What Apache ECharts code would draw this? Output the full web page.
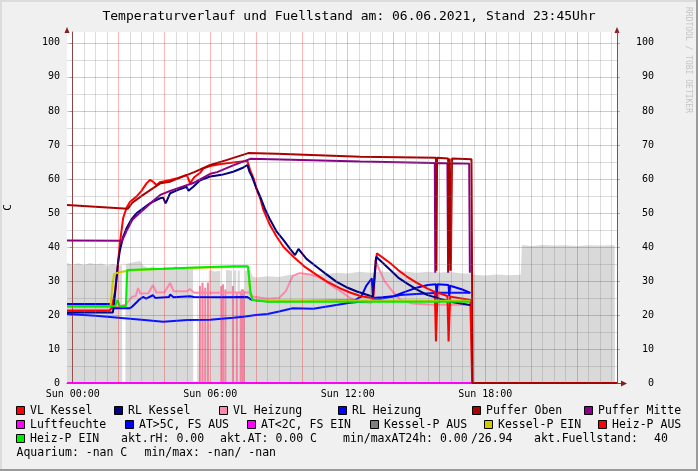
<!DOCTYPE html>
<html><head><meta charset="utf-8">
<script src="https://cdn.jsdelivr.net/npm/echarts@6/dist/echarts.min.js"></script>
<style>html,body{margin:0;padding:0;background:#f0f0f0}#c{width:698px;height:471px}</style>
</head><body><div id="c"></div>
<script>
// ---------- data (hours of the day, value) ----------
const xTickHours = [0, 6, 12, 18];
const xTickLabels = ['Sun 00:00', 'Sun 06:00', 'Sun 12:00', 'Sun 18:00'];

const vlKessel = [[-0.25,21.3],[1.6,21.3],[1.7,22],[1.85,27],[1.92,31.3],[2.06,41.2],[2.2,48.5],[2.35,51.5],[2.5,53.3],[2.78,54.8],[3.0,56.5],[3.22,58.7],[3.37,59.7],[3.5,59.2],[3.66,58.2],[3.8,59.0],[4.0,59.3],[4.25,59.7],[4.6,60.3],[4.97,61.2],[5.05,60],[5.12,58.7],[5.3,60.5],[5.56,61.8],[5.7,63.1],[6.0,63.8],[6.4,64.3],[6.72,64.6],[7.2,65],[7.62,65.3],[7.74,62.6],[7.9,60],[8.03,56.8],[8.18,54.3],[8.32,50.9],[8.6,46.5],[8.9,43],[9.2,40],[9.63,37.1],[10.1,34.3],[10.64,31.8],[11.1,29.8],[11.67,27.8],[12.1,26.6],[12.55,25.6],[13.1,24.9],[13.2,33],[13.27,38.1],[13.5,37],[13.86,35.2],[14.2,33.2],[14.58,31.3],[15.0,29.5],[15.46,27.8],[15.8,26.8],[15.85,12.2],[15.92,26.6],[16.35,25.6],[16.4,12.2],[16.47,25.4],[16.9,24.9],[17.35,24.4],[17.43,0],[23.75,0]];
const rlKessel = [[-0.25,20.7],[1.75,20.7],[1.8,23],[1.9,30],[1.99,36],[2.06,39],[2.2,43],[2.35,45.5],[2.55,48],[2.78,49.9],[3.0,51],[3.37,52.8],[3.6,53.6],[3.81,54.3],[3.95,54.5],[4.05,52.8],[4.1,53.5],[4.25,55.8],[4.6,56.8],[4.97,57.7],[5.05,56.5],[5.12,56.3],[5.26,57.7],[5.56,59.6],[6.0,60.7],[6.5,61.2],[7.0,62.1],[7.4,63.2],[7.62,64.1],[7.72,62],[7.82,60.7],[8.0,57.5],[8.18,54.8],[8.4,51],[8.62,47.9],[8.9,44.5],[9.2,42],[9.5,39.3],[9.7,37.6],[9.85,39.4],[10.2,36.5],[10.64,34.2],[11.0,32.3],[11.5,29.8],[12.0,28],[12.4,26.9],[12.8,26],[13.1,25.4],[13.2,34],[13.24,37.1],[13.5,35.5],[13.86,33.2],[14.2,31],[14.58,29.3],[15.0,27.5],[15.46,25.9],[16.0,24.8],[16.48,23.9],[17.0,23.3],[17.35,22.9]];
const vlHeizung = [[-0.25,22.3],[1.8,22.3],[2.0,22.5],[2.3,23],[2.6,25.4],[2.75,25.6],[2.85,27.9],[2.95,26.3],[3.3,26.4],[3.5,28.8],[3.65,26.6],[4.0,26.7],[4.25,29.4],[4.4,27],[5.0,27],[5.12,27.6],[5.3,26.5],[6,26.5],[7,26.6],[7.7,26.6],[7.85,25.4],[8.5,24.8],[9.0,25],[9.3,27],[9.6,31.5],[9.9,32.3],[10.3,32],[10.7,31.2],[11.0,30],[11.4,28.2],[11.8,26.5],[12.1,25],[12.5,24],[13.0,23.5],[13.15,25],[13.2,36.2],[13.4,33],[13.6,30],[13.9,27.4],[14.3,24.4],[14.8,23.4],[15.5,23.1],[16.5,23],[17.35,23]];
const rlHeizung = [[-0.25,23.2],[1.7,23.2],[1.8,22],[2.5,22],[2.6,22.5],[2.8,23.8],[2.9,24.5],[3.07,25.3],[3.2,24.8],[3.5,25.8],[3.6,25],[4.2,25.3],[4.25,26],[4.4,25.2],[5.1,25.5],[5.3,25.3],[6.5,25.2],[7.6,25.3],[7.8,24.5],[8.5,24],[10,24.1],[11,24.2],[12.3,24.3],[12.6,25.5],[12.8,28.5],[13.05,30.8],[13.1,25],[13.5,25.2],[14,25.5],[14.5,26.8],[15,28],[15.5,28.8],[15.85,29],[15.88,25],[15.92,29],[16.4,28.8],[16.43,25.5],[16.47,28.6],[17,27.5],[17.35,26.5]];
const pufferOben = [[-0.25,52.3],[2.4,51.2],[2.6,53],[3.07,55.3],[3.82,58.7],[4.25,59.2],[5.3,62],[6.0,64.1],[6.74,65.6],[7.66,67.6],[8.9,67.4],[12.55,66.5],[15.85,66.2],[15.87,33],[15.9,66.2],[16.38,66],[16.4,33],[16.45,66],[16.5,33],[16.55,66],[17.4,65.8],[17.45,0],[23.75,0]];
const pufferMitte = [[-0.25,41.9],[2.15,41.8],[2.37,45],[2.6,48],[3.07,50.9],[3.5,53.5],[3.82,55.3],[4.25,56.5],[5.26,58.8],[6.0,61.5],[6.3,62],[7.0,64],[7.75,65.9],[10,65.6],[12.55,65.1],[15.8,64.7],[15.82,32.4],[15.87,64.7],[16.35,64.6],[16.38,32.4],[16.42,64.6],[17.3,64.5],[17.33,32.4]];
const luftfeuchte = [[-0.25,0],[23.75,0]];
const atWarm = [[-0.25,20.3],[1,19.8],[2,19.2],[3,18.6],[3.95,18.0],[5,18.5],[6,18.6],[7,19.2],[7.45,19.5],[8,20],[8.5,20.3],[9,21],[9.6,22],[10.5,21.8],[11.3,22.7],[12.1,23.6],[13,24.2],[14.3,25.9],[15,26.2],[16,26.5],[17.35,26.5]];
const atCold = [];
const kesselPAus = [[-0.25,35.3],[0,34.8],[0.25,35.2],[0.5,34.6],[0.75,35.3],[1,34.9],[1.25,35.1],[1.5,34.5],[1.75,35],[2,34.3],[2.15,34.8],[2.16,0],[2.3,0],[2.31,35],[2.6,35.4],[2.94,35.9],[3.1,34.4],[3.3,33.8],[3.5,34.3],[3.75,33.5],[4,34.2],[4.25,33.6],[4.5,34.4],[4.75,33.5],[5,34],[5.25,33.8],[5.26,0],[5.43,0],[5.44,33.5],[5.5,33.2],[5.51,0],[5.6,0],[5.61,33],[5.62,33.4],[5.63,0],[5.69,0],[5.7,33.2],[5.74,33.5],[5.75,0],[5.81,0],[5.82,33.2],[5.87,33.3],[5.88,0],[5.93,0],[5.94,33.2],[6.2,32.8],[6.44,33],[6.45,0],[6.6,0],[6.61,33.3],[6.63,33],[6.64,0],[6.68,0],[6.69,33.3],[6.95,33],[6.96,0],[7.02,0],[7.03,33],[7.13,33.2],[7.14,0],[7.19,0],[7.2,33],[7.29,33.1],[7.3,0],[7.5,0],[7.51,33],[7.75,33.2],[7.85,31.3],[8,31],[8.5,31.4],[9,31.2],[9.5,31.8],[10,31.6],[10.5,32.2],[11,32],[11.5,32.4],[12,32.2],[12.5,32.7],[13,32.4],[13.5,32.8],[14,32.5],[14.5,32.8],[15,32.4],[15.5,32.7],[16,32.5],[16.5,32.6],[17,32.2],[17.4,32.2],[17.5,31.8],[18,31.6],[18.5,31.9],[19,31.7],[19.55,31.8],[19.6,40.6],[20,40.3],[20.5,40.6],[21,40.4],[21.5,40.5],[22,40.3],[22.5,40.5],[23,40.4],[23.5,40.5],[23.65,40.4],[23.66,0]];
const kesselPEin = [[-0.25,22.6],[1.65,22.6],[1.72,28],[1.8,32],[2.0,32.5],[2.4,33],[3,33.3],[5,33.8],[7.5,34.2],[7.65,34.2],[7.75,26],[7.85,24.5],[8.5,24.3],[17.35,24.2]];
const heizPAus = [[5.55,28.5],[5.66,29.5],[5.78,28],[5.9,29.5],[6.48,28.5],[6.56,29],[6.66,27.5],[6.99,28.5],[7.16,26.5],[7.33,27],[7.38,27.5],[7.43,27.5],[7.47,27]];
const heizPEin = [[-0.25,22.6],[1.85,22.6],[1.95,24.4],[2.05,22.6],[2.32,22.6],[2.38,33.2],[3,33.4],[4,33.6],[5,33.9],[6,34.1],[7,34.3],[7.65,34.3],[7.75,27],[7.85,24.4],[8.5,23.9],[17.35,23.9]];

const legendRows = [
  [['VL Kessel','#ff0000'],['RL Kessel','#000080'],['VL Heizung','#ff88aa'],['RL Heizung','#0000ff'],['Puffer Oben','#aa0000'],['Puffer Mitte','#880088']],
  [['Luftfeuchte','#ff00ff'],['AT>5C, FS AUS','#0000ff'],['AT<2C, FS EIN','#ff00ff'],['Kessel-P AUS','#808080'],['Kessel-P EIN','#cccc00'],['Heiz-P AUS','#ff0000']],
  [['Heiz-P EIN','#00ee00']]
];
const infoTexts = ['akt.rH: 0.00','akt.AT: 0.00 C','min/maxAT24h: 0.00','/26.94','akt.Fuellstand:','40'];
const aquariumTexts = ['Aquarium: -nan C','min/max: -nan/ -nan'];
const titleText = 'Temperaturverlauf und Fuellstand am: 06.06.2021, Stand 23:45Uhr';

// ---------- layout ----------
const MONO = '"DejaVu Sans Mono", monospace';
const legendX = [[16.5,114.5,219.5,338.5,472.5,584.5],[16.5,125.5,247.5,370.5,484.5,598.5],[16.5]];
const legendY = [411,425,439];
const infoX = [121,220,343,471,534,654];
const aquaX = [16.5,144.5];

const minorX=[], majorX=[];
for (let h=0; h<=23.5; h+=0.5) { if (h%2===0) majorX.push(h); else minorX.push(h); }
const minorY=[], majorY=[];
for (let v=5; v<=100; v+=5) { if (v%10===0) majorY.push(v); else minorY.push(v); }

const gridMarks = [];
minorX.forEach(v=>gridMarks.push({xAxis:v, lineStyle:{color:'rgba(128,128,128,0.28)'}}));
minorY.forEach(v=>gridMarks.push({yAxis:v, lineStyle:{color:'rgba(128,128,128,0.28)'}}));
majorX.forEach(v=>gridMarks.push({xAxis:v, lineStyle:{color:'rgba(255,0,0,0.28)'}}));
majorY.forEach(v=>gridMarks.push({yAxis:v, lineStyle:{color:'rgba(255,0,0,0.28)'}}));

function line(name, data, color, extra) {
  return Object.assign({type:'line', name, data, showSymbol:false, symbol:'none', animation:false,
    lineStyle:{color, width:2}, itemStyle:{color}, z:3}, extra||{});
}

const graphics = [];
graphics.push({type:'rect', shape:{x:0,y:0,width:698,height:2}, style:{fill:'#dcdcdc'}, silent:true});
graphics.push({type:'rect', shape:{x:0,y:0,width:2,height:471}, style:{fill:'#dcdcdc'}, silent:true});
graphics.push({type:'rect', shape:{x:696,y:0,width:2,height:471}, style:{fill:'#9a9a9a'}, silent:true});
graphics.push({type:'rect', shape:{x:0,y:469,width:698,height:2}, style:{fill:'#9a9a9a'}, silent:true});
graphics.push({type:'text', x:349, y:17, style:{text:titleText, font:'13px '+MONO, fill:'#000', align:'center', verticalAlign:'middle'}});
graphics.push({type:'text', x:688, y:7, rotation:-Math.PI/2, style:{text:'RRDTOOL / TOBI OETIKER', font:'8px '+MONO, fill:'#c4c4c4', align:'left', verticalAlign:'middle'}});
graphics.push({type:'polygon', shape:{points:[[64.5,33],[69.5,33],[67,27]]}, style:{fill:'#8b1a1a'}});
graphics.push({type:'polygon', shape:{points:[[614.5,33],[619.5,33],[617,27]]}, style:{fill:'#8b1a1a'}});
graphics.push({type:'line', shape:{x1:617,y1:383.5,x2:622,y2:383.5}, style:{stroke:'#606060',lineWidth:1}});
graphics.push({type:'polygon', shape:{points:[[621,380.5],[621,386.5],[627,383.5]]}, style:{fill:'#8b1a1a'}});
legendRows.forEach((row,r)=>{
  row.forEach((it,i)=>{
    const x = legendX[r][i], y = legendY[r];
    graphics.push({type:'rect', shape:{x:x, y:y-4.5, width:8, height:8}, style:{fill:it[1], stroke:'#000', lineWidth:1}});
    graphics.push({type:'text', x:x+13.5, y:y, style:{text:it[0], font:'11.5px '+MONO, fill:'#000', align:'left', verticalAlign:'middle'}});
  });
});
infoTexts.forEach((t,i)=>graphics.push({type:'text', x:infoX[i], y:legendY[2], style:{text:t, font:'11.5px '+MONO, fill:'#000', align:'left', verticalAlign:'middle'}}));
aquariumTexts.forEach((t,i)=>graphics.push({type:'text', x:aquaX[i], y:453, style:{text:t, font:'11.5px '+MONO, fill:'#000', align:'left', verticalAlign:'middle'}}));

const yAxisBase = {type:'value', min:0, max:103.2, interval:10,
  axisLine:{show:true, lineStyle:{color:'#606060'}},
  axisTick:{show:true, length:3, lineStyle:{color:'rgba(255,0,0,0.4)'}},
  splitLine:{show:false},
  axisLabel:{fontFamily:MONO, fontSize:10, color:'#000', showMaxLabel:false}};

const option = {
  backgroundColor:'#f0f0f0',
  animation:false,
  grid:{left:67, right:81, top:32, bottom:88, show:true, backgroundColor:'#ffffff', borderWidth:0,
    containLabel:false, outerBoundsMode:'none'},
  xAxis:{type:'value', min:-0.25, max:23.75,
    axisLine:{show:true, onZero:false, lineStyle:{color:'#606060'}},
    axisTick:{show:false},
    splitLine:{show:false},
    axisLabel:{customValues:xTickHours, fontFamily:MONO, fontSize:10, color:'#000', margin:6,
      formatter:(v)=>{const i=xTickHours.indexOf(v); return i>=0?xTickLabels[i]:'';}}},
  yAxis:[
    Object.assign({}, yAxisBase, {position:'left', name:'C', nameLocation:'middle', nameGap:53, nameRotate:90,
      nameTextStyle:{fontFamily:MONO, fontSize:11, color:'#000'},
      axisLabel:Object.assign({}, yAxisBase.axisLabel, {margin:7})}),
    Object.assign({}, yAxisBase, {position:'right',
      axisLabel:Object.assign({}, yAxisBase.axisLabel, {margin:37, align:'right'})})
  ],
  series:[
    {type:'line', name:'Kessel-P AUS', data:kesselPAus, showSymbol:false, symbol:'none', z:1,
      lineStyle:{width:0, opacity:0}, areaStyle:{color:'rgba(140,140,140,0.33)', opacity:1}},
    {type:'bar', name:'Heiz-P AUS', data:heizPAus, barWidth:2, itemStyle:{color:'#f4849f'}, z:1},
    {type:'line', name:'grid', data:[], z:2, silent:true,
      markLine:{silent:true, symbol:['none','none'], label:{show:false}, animation:false,
        lineStyle:{type:'solid', width:1}, emphasis:{disabled:true}, data:gridMarks}},
    line('Luftfeuchte', luftfeuchte, '#ff00ff', {clip:false}),
    line('AT<2C, FS EIN', atCold, '#ff00ff'),
    line('VL Heizung', vlHeizung, '#ff88aa'),
    line('AT>5C, FS AUS', atWarm, '#0a14ff'),
    line('RL Heizung', rlHeizung, '#0000ff'),
    line('VL Kessel', vlKessel, '#ff0000', {clip:false}),
    line('RL Kessel', rlKessel, '#000080'),
    line('Puffer Mitte', pufferMitte, '#880088'),
    line('Puffer Oben', pufferOben, '#aa0000', {clip:false}),
    line('Kessel-P EIN', kesselPEin, '#cccc00'),
    line('Heiz-P EIN', heizPEin, '#00ee00')
  ],
  graphic:graphics
};
const chart = echarts.init(document.getElementById('c'), null, {renderer:'canvas'});
chart.setOption(option);
</script></body></html>
